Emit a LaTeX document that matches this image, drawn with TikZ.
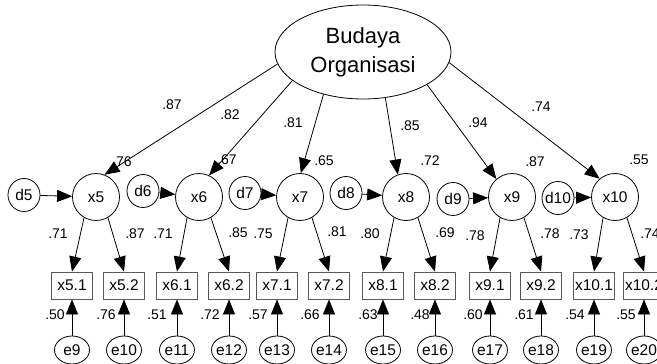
\documentclass[tikz,border=0pt]{standalone}
\usepackage{fontspec}
\setmainfont{Liberation Sans}
\usetikzlibrary{arrows.meta,shapes.geometric}

\begin{document}
\begin{tikzpicture}[x=1pt,y=-1pt,
  every node/.style={font=\fontsize{15.5}{18}\selectfont, inner sep=0pt},
  latent/.style={draw, circle, minimum size=47pt, line width=0.8pt},
  dist/.style={draw, ellipse, minimum width=32pt, minimum height=33pt, line width=0.8pt},
  obs/.style={draw=black!65, rectangle, minimum width=41pt, minimum height=27pt, line width=0.9pt},
  err/.style={draw, ellipse, minimum width=35pt, minimum height=28pt, line width=0.8pt},
  factor/.style={draw, ellipse, minimum width=176pt, minimum height=94pt, line width=0.8pt,
    align=center, font=\fontsize{22}{29}\selectfont},
  coef/.style={font=\fontsize{14}{16}\selectfont},
  arr/.style={-{Triangle[length=15pt,width=12pt]}, line width=0.8pt},
]
\useasboundingbox (0,0) rectangle (657,364);
\fill[white] (0,0) rectangle (657,364);

% second-order factor
\node[factor] (F) at (363,52) {Budaya\\Organisasi};

% first-order factors
\node[latent] (x5)  at (96,197)  {x5};
\node[latent] (x6)  at (199,197) {x6};
\node[latent] (x7)  at (300,197) {x7};
\node[latent] (x8)  at (406,197) {x8};
\node[latent] (x9)  at (512,197) {x9};
\node[latent] (x10) at (615,197) {x10};

% disturbances
\node[dist, label={center:d5}]  (d5)  at (24,195)  {};
\node[dist, label={center:d6}]  (d6)  at (143,191) {};
\node[dist, label={center:d7}]  (d7)  at (245,193) {};
\node[dist, label={center:d8}]  (d8)  at (346,193) {};
\node[dist, label={center:d9}]  (d9)  at (453,199) {};
\node[dist, label={center:d10}] (d10) at (558,198) {};

% indicators
\node[obs] (b51)  at (72,285.5)  {x5.1};
\node[obs] (b52)  at (124,285.5) {x5.2};
\node[obs] (b61)  at (177,285.5) {x6.1};
\node[obs] (b62)  at (229,285.5) {x6.2};
\node[obs] (b71)  at (277,285.5) {x7.1};
\node[obs] (b72)  at (329,285.5) {x7.2};
\node[obs] (b81)  at (383,285.5) {x8.1};
\node[obs] (b82)  at (435,285.5) {x8.2};
\node[obs] (b91)  at (490,285.5) {x9.1};
\node[obs] (b92)  at (541,285.5) {x9.2};
\node[obs] (b101) at (594,285.5) {x10.1};
\node[obs] (b102) at (644,285.5) {x10.2};

% measurement errors
\foreach \b/\e/\x in {b51/e9/72, b52/e10/124, b61/e11/177, b62/e12/229,
                      b71/e13/277, b72/e14/329, b81/e15/383, b82/e16/435,
                      b91/e17/490, b92/e18/541, b101/e19/594, b102/e20/644}{
  \node[err, label={center:\e}] (\e) at (\x,350) {};
  \draw[arr] (\e) -- (\b);
}

% second-order loadings
\draw[arr] (F.188) -- (x5.69);
\draw[arr] (F.202) -- (x6.65);
\draw[arr] (F.227) -- (x7.88);
\draw[arr] (F.296) -- (x8.110);
\draw[arr] (F.333) -- (x9.131);
\draw[arr] (F.353) -- (x10.130);

% disturbance paths
\foreach \d/\x in {d5/x5, d6/x6, d7/x7, d8/x8, d9/x9, d10/x10}{
  \draw[arr] (\d) -- (\x);
}

% first-order loadings
\foreach \x/\p/\q in {x5/b51/b52, x6/b61/b62, x7/b71/b72, x8/b81/b82,
                      x9/b91/b92, x10/b101/b102}{
  \draw[arr] (\x.240) -- (\p.north);
  \draw[arr] (\x.300) -- (\q.north);
}

% estimates: second-order loadings
\node[coef] (l5)  at (172,105) {.87};
\node[coef] (l6)  at (230,115) {.82};
\node[coef] (l7)  at (293,123) {.81};
\node[coef] (l8)  at (410,126) {.85};
\node[coef] (l9)  at (478,123) {.94};
\node[coef] (l10) at (541,107) {.74};

% estimates: squared multiple correlations
\node[coef] (r5)  at (122,162) {.76};
\node[coef] (r6)  at (227,160) {.67};
\node[coef] (r7)  at (324,161) {.65};
\node[coef] (r8)  at (430,161) {.72};
\node[coef] (r9)  at (535,162) {.87};
\node[coef] (r10) at (639,160) {.55};

% estimates: first-order loadings
\node[coef] (m51)  at (58,234)  {.71};
\node[coef] (m52)  at (135,234) {.87};
\node[coef] (m61)  at (163,234) {.71};
\node[coef] (m62)  at (238,233) {.85};
\node[coef] (m71)  at (263,234) {.75};
\node[coef] (m72)  at (337,232) {.81};
\node[coef] (m81)  at (370,234) {.80};
\node[coef] (m82)  at (445,233) {.69};
\node[coef] (m91)  at (475,236) {.78};
\node[coef] (m92)  at (550,234) {.78};
\node[coef] (m101) at (579,235) {.73};
\node[coef] (m102) at (650,234) {.74};

% estimates: indicator squared correlations
\node[coef] (s51)  at (55,315)  {.50};
\node[coef] (s52)  at (106,315) {.76};
\node[coef] (s61)  at (157,315) {.51};
\node[coef] (s62)  at (210,315) {.72};
\node[coef] (s71)  at (258,315) {.57};
\node[coef] (s72)  at (310,315) {.66};
\node[coef] (s81)  at (368,315) {.63};
\node[coef] (s82)  at (420,315) {.48};
\node[coef] (s91)  at (473,315) {.60};
\node[coef] (s92)  at (524,315) {.61};
\node[coef] (s101) at (575,315) {.54};
\node[coef] (s102) at (626,315) {.55};
\end{tikzpicture}
\end{document}
